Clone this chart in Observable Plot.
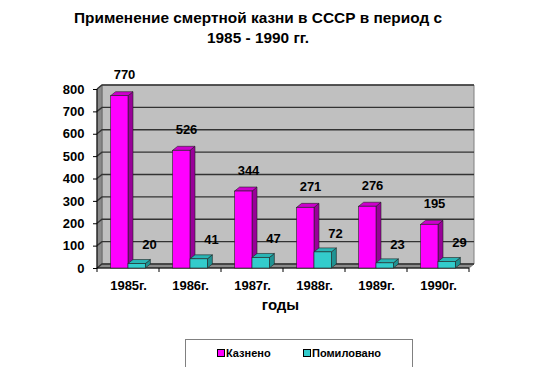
<!DOCTYPE html>
<html>
<head>
<meta charset="utf-8">
<script src="https://cdn.jsdelivr.net/npm/d3@7"></script>
<script src="https://cdn.jsdelivr.net/npm/@observablehq/plot@0.6"></script>
<style>
  body { margin: 0; background: #fff; font-family: Arial, "Liberation Sans", sans-serif; }
  #wrap { position: relative; width: 536px; height: 367px; overflow: hidden; background: #fff; }
  #chart { position: absolute; left: 0; top: 0; }
  #title { position: absolute; left: 0; top: 8px; width: 516px; text-align: center;
           font-weight: bold; font-size: 15.4px; line-height: 20px; color: #000; }
  #legend { position: absolute; left: 185px; top: 339px; width: 228px; height: 40px;
            border: 1px solid #808080; box-sizing: border-box; background: #fff;
            font-weight: bold; font-size: 11px; color: #000; }
  .item { position: absolute; top: 7px; line-height: 13px; white-space: nowrap; }
  .sw { display: inline-block; width: 6px; height: 6px; border: 1px solid #000; margin-right: 1px; vertical-align: 0px; }
</style>
</head>
<body>
<div id="wrap">
  <div id="chart"></div>
  <div id="title">Применение смертной казни в СССР в период с<br>1985 - 1990 гг.</div>
  <div id="legend"></div>
</div>
<script>
// ---- data ----
const years = ["1985г.", "1986г.", "1987г.", "1988г.", "1989г.", "1990г."];
const executed = [770, 526, 344, 271, 276, 195];
const pardoned = [20, 41, 47, 72, 23, 29];
const seriesNames = ["Казнено", "Помиловано"];
const yTicks = [0, 100, 200, 300, 400, 500, 600, 700, 800];
const xLabel = "годы";

// ---- styling ----
const colors = {
  exec: { front: "#ff00ff", side: "#990099", top: "#cc00cc" },
  pard: { front: "#33cccc", side: "#1f9393", top: "#2ab5b5" }
};
const DX = 5, DY = -4;               // 3D depth offset (px)
const BW = (536 - 97 - 67) / years.length;
const execL = 0.22, execR = 0.50, pardL = 0.50, pardR = 0.78;

const rowsExec = years.map((year, i) => ({ year, value: executed[i] }));
const rowsPard = years.map((year, i) => ({ year, value: pardoned[i] }));

function pts(a) { return a.map(p => p.join(",")).join(" "); }

// back wall, side wall, floor, gridlines, axis lines
function walls(index, scales, values, dimensions) {
  const x = scales.x, y = scales.y;
  const [r0, r1] = x.range();
  const x0 = Math.min(r0, r1), x1 = Math.max(r0, r1);
  const y0 = y(0), yT = y(yTicks[yTicks.length - 1]);
  const g = d3.create("svg:g");
  g.append("polygon").attr("points", pts([[x0 + DX, yT + DY], [x1 + DX, yT + DY], [x1 + DX, y0 + DY], [x0 + DX, y0 + DY]]))
    .attr("fill", "#c0c0c0").attr("stroke", "#808080").attr("stroke-width", 1);
  g.append("polygon").attr("points", pts([[x0, yT], [x0 + DX, yT + DY], [x0 + DX, y0 + DY], [x0, y0]]))
    .attr("fill", "#8a8a8a").attr("stroke", "#666").attr("stroke-width", 0.8);
  g.append("polygon").attr("points", pts([[x0, y0], [x0 + DX, y0 + DY], [x1 + DX, y0 + DY], [x1, y0]]))
    .attr("fill", "#8a8a8a").attr("stroke", "#666").attr("stroke-width", 0.8);
  for (const t of yTicks) {
    const yy = y(t);
    g.append("polyline").attr("points", pts([[x0, yy], [x0 + DX, yy + DY], [x1 + DX, yy + DY]]))
      .attr("fill", "none").attr("stroke", "#333").attr("stroke-width", 1.4);
  }
  g.append("line").attr("x1", x0).attr("x2", x0).attr("y1", yT).attr("y2", y0).attr("stroke", "#000");
  g.append("line").attr("x1", x0).attr("x2", x1).attr("y1", y0).attr("y2", y0).attr("stroke", "#000");
  const bounds = years.map(d => x(d)).concat([x1]);
  for (const b of bounds) {
    g.append("line").attr("x1", b).attr("x2", b).attr("y1", y0).attr("y2", y0 + 4).attr("stroke", "#000");
  }
  return g.node();
}

// side + top faces of 3D bars
function faces(rows, lf, rf, col) {
  return (index, scales) => {
    const x = scales.x, y = scales.y;
    const bw = x.bandwidth ? x.bandwidth() : BW;
    const g = d3.create("svg:g");
    for (const r of rows) {
      const xa = x(r.year) + lf * bw, xb = x(r.year) + rf * bw;
      const yt = y(r.value), yb = y(0);
      g.append("polygon").attr("points", pts([[xb, yt], [xb + DX, yt + DY], [xb + DX, yb + DY], [xb, yb]]))
        .attr("fill", col.side).attr("stroke", "#222").attr("stroke-width", 0.6);
      g.append("polygon").attr("points", pts([[xa, yt], [xa + DX, yt + DY], [xb + DX, yt + DY], [xb, yt]]))
        .attr("fill", col.top).attr("stroke", "#222").attr("stroke-width", 0.6);
    }
    return g.node();
  };
}

const font = { fontSize: 13, fontWeight: "bold", fill: "#000" };

const plot = Plot.plot({
  width: 536,
  height: 367,
  marginLeft: 97,
  marginRight: 67,
  marginTop: 89,
  marginBottom: 99,
  style: { fontFamily: "Arial, 'Liberation Sans', sans-serif", background: "transparent", color: "#000" },
  x: { domain: years, padding: 0, label: null },
  y: { domain: [0, 800], label: null },
  marks: [
    walls,
    Plot.axisY({ ticks: yTicks, tickSize: 4, tickPadding: 9, label: null, ...font }),
    Plot.axisX({ tickSize: 0, tickPadding: 12, label: null, ...font }),
    faces(rowsExec, execL, execR, colors.exec),
    Plot.barY(rowsExec, { x: "year", y: "value", fill: colors.exec.front, stroke: "#222", strokeWidth: 0.6,
      insetLeft: execL * BW, insetRight: (1 - execR) * BW }),
    faces(rowsPard, pardL, pardR, colors.pard),
    Plot.barY(rowsPard, { x: "year", y: "value", fill: colors.pard.front, stroke: "#222", strokeWidth: 0.6,
      insetLeft: pardL * BW, insetRight: (1 - pardR) * BW }),
    Plot.text(rowsExec, { x: "year", y: "value", text: d => String(d.value), dx: -4, dy: -21, ...font }),
    Plot.text(rowsPard, { x: "year", y: "value", text: d => String(d.value), dx: 21, dy: -19, ...font }),
    Plot.text([xLabel], { frameAnchor: "bottom", dx: -3, dy: 41, fontSize: 15, fontWeight: "bold", fill: "#000" })
  ]
});
document.getElementById("chart").appendChild(plot);

// legend
const legend = document.getElementById("legend");
const legendPos = [31, 117];
seriesNames.forEach((name, i) => {
  const it = document.createElement("div");
  it.className = "item";
  it.style.left = legendPos[i] + "px";
  const sw = document.createElement("span");
  sw.className = "sw";
  sw.style.background = i === 0 ? colors.exec.front : colors.pard.front;
  it.appendChild(sw);
  it.appendChild(document.createTextNode(name));
  legend.appendChild(it);
});
</script>
</body>
</html>
